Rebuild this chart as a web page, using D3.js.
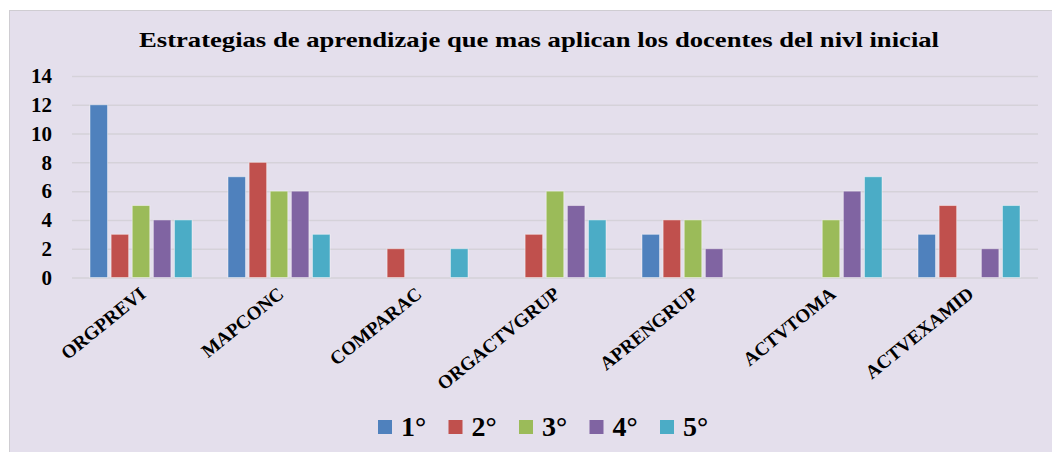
<!DOCTYPE html>
<html>
<head>
<meta charset="utf-8">
<script src="https://cdnjs.cloudflare.com/ajax/libs/d3/7.8.5/d3.min.js"></script>
<style>
  body { margin:0; background:#fff; }
  svg text { font-weight:bold; fill:#000; }
</style>
</head>
<body>
<div id="chart"></div>
<script>
const categories = ['ORGPREVI','MAPCONC','COMPARAC','ORGACTVGRUP','APRENGRUP','ACTVTOMA','ACTVEXAMID']
const seriesNames = ['1°','2°','3°','4°','5°']
const s1 = [12, 7, 0, 0, 3, 0, 3]
const s2 = [3, 8, 2, 3, 4, 0, 5]
const s3 = [5, 6, 0, 6, 4, 4, 0]
const s4 = [4, 6, 0, 5, 2, 6, 2]
const s5 = [4, 3, 2, 4, 0, 7, 5]
const yTicks = [0, 2, 4, 6, 8, 10, 12, 14]
const colors = ['#4f81bd','#c0504d','#9bbb59','#8064a2','#4bacc6']
const serif = "'Liberation Serif', serif"

const allSeries = [s1, s2, s3, s4, s5]
let width = 1052, height = 452
let margin = { top:76, left:72, right:14, bottom:175 }
let innerWidth = width - margin.left - margin.right,
    innerHeight = height - margin.top - margin.bottom

let svg = d3.select("#chart").append("svg").attr("width", width).attr("height", height)

// chart background
svg.append("rect")
  .attr("x", 9.5).attr("y", 10.5)
  .attr("width", width - 9).attr("height", height - 10)
  .attr("fill", "#e4dfec")
  .attr("stroke", "#cfcdd2")

svg.append("text")
  .attr("x", 139).attr("y", 47)
  .attr("textLength", 800).attr("lengthAdjust", "spacingAndGlyphs")
  .style("font-family", serif)
  .style("font-size", "22px")
  .text("Estrategias de aprendizaje  que  mas aplican  los docentes  del nivl inicial")

let xScale = d3.scaleBand().domain(categories).range([0, innerWidth])
let x1 = d3.scaleBand().domain(seriesNames).range([18, 120]).paddingInner(0.17)
let yScale = d3.scaleLinear().domain([0, 14]).range([innerHeight + 0.5, 0])

let g = svg.append("g").attr("transform", `translate(${margin.left},${margin.top})`)

let yAxis = d3.axisLeft(yScale).tickValues(yTicks).tickSize(-innerWidth).tickPadding(20)
let yGroup = g.append("g").call(yAxis).attr("font-family", null)
yGroup.select(".domain").remove()
yGroup.selectAll(".tick line").attr("stroke", "#d5d2d9").attr("stroke-width", 1.5)
yGroup.selectAll(".tick text")
  .style("font-family", serif)
  .style("font-size", "21px").attr("fill", "#000")

let groups = g.selectAll(".cat")
  .data(categories)
  .enter()
  .append("g")
  .attr("transform", d => `translate(${xScale(d)},0)`)

groups.selectAll("rect")
  .data((d, i) => seriesNames.map((s, j) => ({ s: s, j: j, v: allSeries[j][i] })))
  .enter()
  .filter(d => d.v > 0)
  .append("rect")
  .attr("x", d => x1(d.s))
  .attr("y", d => yScale(d.v))
  .attr("width", x1.bandwidth())
  .attr("height", d => yScale(0) - yScale(d.v))
  .attr("fill", d => colors[d.j])
  .attr("stroke", "rgba(255,255,255,0.45)")
  .attr("stroke-width", 1)

// rotated category labels
g.selectAll(".xlab")
  .data(categories)
  .enter()
  .append("text")
  .attr("text-anchor", "end")
  .attr("transform", d => `translate(${xScale(d) + xScale.bandwidth() / 2 + 6},${innerHeight + 19}) rotate(-39)`)
  .style("font-family", serif)
  .style("font-size", "19px")
  .text(d => d)

// legend
let legend = svg.append("g").attr("transform", "translate(378,427)")
let items = legend.selectAll("g")
  .data(seriesNames)
  .enter()
  .append("g")
  .attr("transform", (d, i) => `translate(${i * 70.5},0)`)
items.append("rect")
  .attr("x", 0).attr("y", -7)
  .attr("width", 14).attr("height", 14)
  .attr("fill", (d, i) => colors[i])
items.append("text")
  .attr("x", 23).attr("y", 9)
  .style("font-family", serif)
  .style("font-size", "28px")
  .text(d => d)
</script>
</body>
</html>
